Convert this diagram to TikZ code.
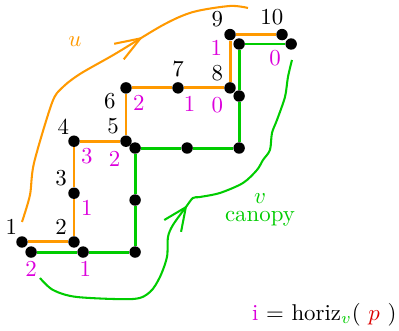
\documentclass[tikz,border=0pt]{standalone}
\usepackage{xcolor}
\usepackage{tikz}
\usetikzlibrary{positioning,arrows.meta,decorations.markings,backgrounds}

\definecolor{orng}{RGB}{255,153,0}
\definecolor{grn}{RGB}{0,204,0}
\definecolor{mag}{RGB}{220,0,220}
\definecolor{rd}{RGB}{220,0,0}

\begin{document}
\begin{tikzpicture}[
node distance=.8cm,
dot/.style={circle,fill=black,inner sep=0pt,minimum size=5pt,on grid},
num/.style={inner sep=1pt},
idx/.style={inner sep=1pt,text=mag},
opath/.style={draw=orng,line width=1.3pt},
gpath/.style={draw=grn,line width=1.3pt},
freehand/.style={line width=.9pt,postaction={decorate}}]
\useasboundingbox (-0.338,-1.369) rectangle (5.799,3.722);

\node (o1) [dot, label={[num,xshift=1pt]above left:1}] at (0,0) {};
\node (o2) [dot, right=of o1, label={[num]above left:2}] {};
\node (o3) [dot, above=.75cm of o2,
    label={[num]above left:3},
    label={[idx]below right:1}] {};
\node (o4) [dot, above=of o3,
    label={[num,xshift=1pt]above left:4},
    label={[idx]below right:3}] {};
\node (o5) [dot, right=of o4,
    label={[num]above left:5},
    label={[idx,yshift=-1pt]-120:2}] {};
\node (o6) [dot, above=.82cm of o5,
    label={[num,xshift=-1pt]210:6},
    label={[idx]below right:2}] {};
\node (o7) [dot, right=of o6,
    label={[num,yshift=1pt]above:7},
    label={[idx]-60:1}] {};
\node (o8) [dot, right=of o7,
    label={[num]above left:8},
    label={[idx,yshift=-1pt]below left:0}] {};
\node (o9) [dot, above=.82cm of o8,
    label={[num]above left:9},
    label={[idx]210:1}] {};
\node (o10) [dot, right=of o9, label={[num,xshift=-4.5pt,yshift=.5pt]above:10}] {};

\node (g1) [dot, below right=.155cm and .14cm of o1, label={[idx]below:2}] {};
\node (g2) [dot, right=of g1, label={[idx,xshift=1pt]below:1}] {};
\node (g3) [dot, right=of g2] {};
\node (g4) [dot, above=of g3] {};
\node (g5) [dot, above=of g4] {};
\node (g6) [dot, right=of g5] {};
\node (g7) [dot, right=of g6] {};
\node (g8) [dot, above=of g7] {};
\node (g9) [dot, above=of g8] {};
\node (g10) [dot, right=of g9, label={[idx,xshift=-1pt]210:0}] {};

\begin{pgfonlayer}{background}
\draw [opath] (o1) -- (o2) -- (o3) -- (o4) -- (o5) -- (o6) -- (o7) -- (o8) -- (o9) -- (o10);
\draw [gpath] (g1) -- (g2) -- (g3) -- (g4) -- (g5) -- (g6) -- (g7) -- (g8) -- (g9) -- (g10);
\end{pgfonlayer}

\draw [freehand, orng, decoration={markings,
    mark=at position .68 with {\arrow{Straight Barb[length=11pt,width=8pt]}}}]
  plot [smooth] coordinates {(0,.308) (.123,.723) (.185,1.215) (.461,2.138) (.615,2.369)
    (.892,2.584) (1.43,2.891) (2.169,3.337) (2.63,3.537) (3.199,3.63) (3.476,3.599)};
\node (ulbl) [text=orng] at (.815,3.076) {\( u \)};

\draw [freehand, grn, decoration={markings,
    mark=at position .52 with {\arrow{Straight Barb[length=10pt,width=9pt]}}}]
  plot [smooth] coordinates {(.277,-.554) (.477,-.738) (.846,-.846) (1.707,-.877) (1.969,-.769)
    (2.122,-.538) (2.23,-.231) (2.246,.077) (2.322,.261) (2.522,.538) (2.63,.677) (2.738,.692)
    (3.045,.754) (3.399,.907) (3.614,1.107) (3.707,1.261) (3.814,1.415) (3.845,1.676)
    (3.922,1.876) (4.045,2.23) (4.091,2.538) (4.153,2.799)};
\node (cnp) [text=grn, anchor=base,
    label={[text=grn,inner sep=0pt]above:\( v \)}] at (3.661,.308) {canopy};

\node (hz) [anchor=base east, inner sep=0pt] at (5.767,-1.2)
  {\textcolor{mag}{i} = horiz\(_{\textcolor{grn}{v}}\)( \textcolor{rd}{\( p \)} )};
\end{tikzpicture}
\end{document}
